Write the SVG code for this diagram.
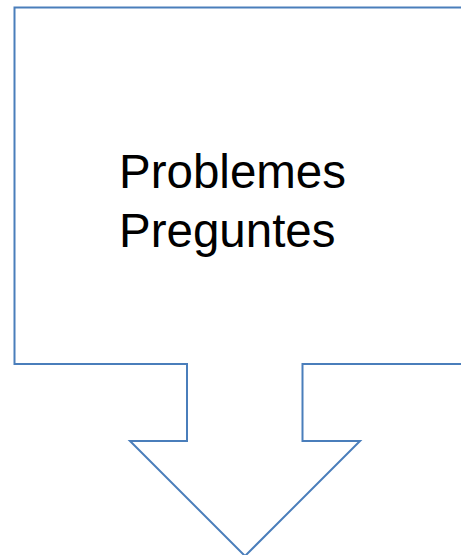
<svg xmlns="http://www.w3.org/2000/svg" width="461" height="555" viewBox="0 0 461 555">
<style>
.shape{fill:#ffffff;stroke:#4a7ebb;stroke-width:2;stroke-linejoin:miter}
.lbl{font-family:"Liberation Sans",Arial,sans-serif;font-size:47.5px;fill:#000000}
</style>
<rect width="461" height="555" fill="#ffffff"/>
<g id="callout">
<path class="shape" d="M14.5,7.5 H470 V364 H302.5 V441 H360 L245,556 L130,441 H187 V364 H14.5 Z"/>
<text class="lbl" x="119" y="188">Problemes</text>
<text class="lbl" x="119" y="247">Preguntes</text>
</g>
<g id="connectors"></g>
</svg>
